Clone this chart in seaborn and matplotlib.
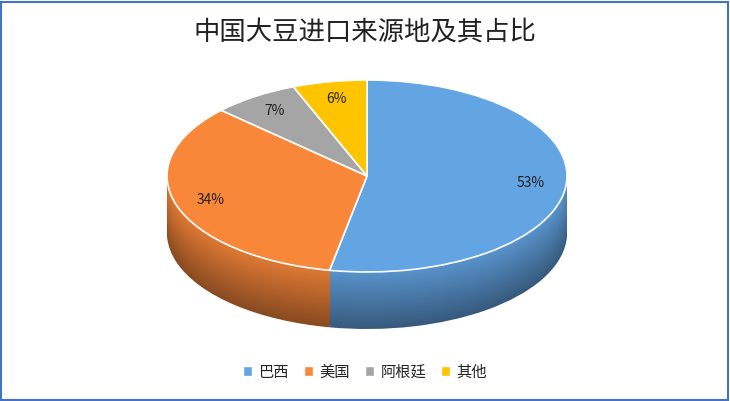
import numpy as np
import seaborn as sns
import matplotlib
matplotlib.use("Agg")
import matplotlib.pyplot as plt
from matplotlib.patches import Patch, Rectangle
from matplotlib.colors import to_rgb

sns.set_theme(style="white")
plt.rcParams['font.family'] = ['Noto Sans CJK SC', 'DejaVu Sans']

title = "中国大豆进口来源地及其占比"
labels = ["巴西", "美国", "阿根廷", "其他"]
shares = [53, 34, 7, 6]
colors = ["#63A4E3", "#F9873A", "#A5A5A5", "#FFC400"]

W, H = 730, 401
fig = plt.figure(figsize=(W / 100, H / 100), dpi=100)
ax = fig.add_axes([0, 0, 1, 1])

rx, ry, cx, cy = 200, 96, 367, 176   # pixels
thick = 57 / ry

def shade(c, f):
    r, g, b = to_rgb(c)
    return (r * f, g * f, b * f)

# side of the cylinder: stacked darker pies
n = 30
for i in range(n, 0, -1):
    d = thick * i / n
    f = 0.55 + 0.35 * (1 - i / n)
    ax.pie(shares, colors=[shade(c, f) for c in colors], startangle=90,
           counterclock=False, center=(0, -d), radius=1,
           wedgeprops=dict(linewidth=0))

ax.pie(shares, colors=colors, startangle=90, counterclock=False,
       autopct=lambda p: f"{round(p)}%", pctdistance=0.82, radius=1,
       wedgeprops=dict(edgecolor="white", linewidth=1.2),
       textprops=dict(color="#222222", fontsize=10))

ax.set_aspect("auto")
ax.set_xlim(-cx / rx, (W - cx) / rx)
ax.set_ylim(-(H - cy) / ry, cy / ry)
ax.axis("off")

fig.text(0.5, 1 - 33 / H, title, ha="center", va="center", fontsize=19, color="#222222")

handles = [Patch(facecolor=c, label=l) for c, l in zip(colors, labels)]
fig.legend(handles=handles, loc="center", bbox_to_anchor=(0.5, 1 - 372 / H), ncol=4,
           frameon=False, fontsize=11, handlelength=0.6, handleheight=0.6,
           handletextpad=0.4, columnspacing=1.0)

fig.patches.append(Rectangle((0.002, 0.003), 0.995, 0.993, transform=fig.transFigure,
                             fill=False, edgecolor="#4472C4", linewidth=1.5))

fig.savefig("out.png", dpi=100)
